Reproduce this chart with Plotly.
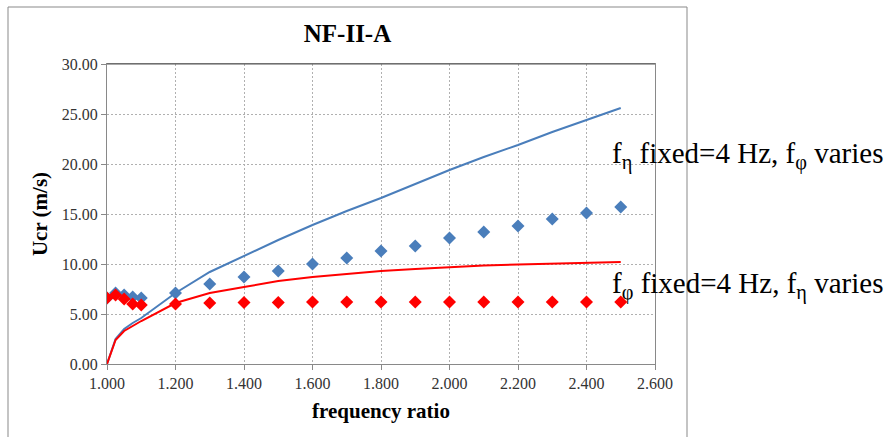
import plotly.graph_objects as go

# ---- data ----
x_pts = [1.000, 1.025, 1.050, 1.075, 1.100, 1.2, 1.3, 1.4, 1.5, 1.6, 1.7, 1.8, 1.9, 2.0, 2.1, 2.2, 2.3, 2.4, 2.5]
blue_pts = [6.6, 7.1, 6.9, 6.7, 6.6, 7.1, 8.0, 8.7, 9.3, 10.0, 10.6, 11.3, 11.8, 12.6, 13.2, 13.8, 14.5, 15.1, 15.7]
red_pts = [6.6, 6.9, 6.5, 6.0, 5.9, 6.0, 6.1, 6.15, 6.15, 6.2, 6.2, 6.2, 6.2, 6.2, 6.2, 6.2, 6.2, 6.2, 6.2]

x_line = [1.000, 1.025, 1.050, 1.075, 1.100, 1.2, 1.3, 1.4, 1.5, 1.6, 1.7, 1.8, 1.9, 2.0, 2.1, 2.2, 2.3, 2.4, 2.5]
blue_line = [0.0, 2.5, 3.5, 4.1, 4.6, 7.1, 9.2, 10.8, 12.4, 13.9, 15.3, 16.6, 18.0, 19.4, 20.7, 21.9, 23.2, 24.4, 25.6]
red_line = [0.0, 2.4, 3.3, 3.8, 4.3, 6.1, 7.1, 7.7, 8.3, 8.7, 9.0, 9.3, 9.5, 9.7, 9.85, 9.95, 10.05, 10.12, 10.2]

x_ticks = [1.0, 1.2, 1.4, 1.6, 1.8, 2.0, 2.2, 2.4, 2.6]
y_ticks = [0, 5, 10, 15, 20, 25, 30]

title_text = "NF-II-A"
x_title = "frequency ratio"
y_title = "Ucr (m/s)"
label_top = "f<sub>η</sub> fixed=4 Hz, f<sub>φ</sub> varies"
label_bottom = "f<sub>φ</sub> fixed=4 Hz, f<sub>η</sub> varies"

BLUE = "#4A7EBB"
RED = "#FF0000"
SERIF = "Liberation Serif"

W, H = 889, 437
L, R, T, B = 107, W - 655, 64, H - 364
PW, PH = W - L - R, H - T - B

def px_x(p):
    return (p - L) / PW

def px_y(p):
    return (H - B - p) / PH

fig = go.Figure()
fig.add_trace(go.Scatter(x=x_line, y=blue_line, mode="lines",
                         line=dict(color=BLUE, width=2), showlegend=False))
fig.add_trace(go.Scatter(x=x_line, y=red_line, mode="lines",
                         line=dict(color=RED, width=2), showlegend=False))
fig.add_trace(go.Scatter(x=x_pts, y=blue_pts, mode="markers",
                         marker=dict(symbol="diamond", size=10, color=BLUE), showlegend=False))
fig.add_trace(go.Scatter(x=x_pts, y=red_pts, mode="markers",
                         marker=dict(symbol="diamond", size=10, color=RED), showlegend=False))

axis_common = dict(
    showgrid=True, gridcolor="#B0B0B0", griddash="2px,2px", gridwidth=1,
    showline=True, linecolor="#898989", linewidth=1, mirror=True,
    ticks="outside", ticklen=5, tickcolor="#898989",
    tickfont=dict(family=SERIF, size=16, color="#333333"),
    zeroline=False,
)

fig.update_xaxes(range=[1.0, 2.6], tickvals=x_ticks, tickformat=".3f",
                 title=dict(text=x_title, standoff=12,
                            font=dict(family=SERIF, size=21, color="#000000", weight="bold")),
                 **axis_common)
fig.update_yaxes(range=[0, 30], tickvals=y_ticks, tickformat=".2f",
                 title=dict(text=y_title, standoff=8,
                            font=dict(family=SERIF, size=21, color="#000000", weight="bold")),
                 **axis_common)

fig.update_layout(
    width=W, height=H,
    margin=dict(l=L, r=R, t=T, b=B, autoexpand=False),
    paper_bgcolor="white", plot_bgcolor="white",
    font=dict(family=SERIF),
    title=dict(text=title_text, x=347.5 / W, xref="container", xanchor="center",
               y=1 - 33 / H, yref="container", yanchor="middle",
               font=dict(family=SERIF, size=25, color="#000000", weight="bold")),
    shapes=[
        dict(type="rect", xref="paper", yref="paper",
             x0=px_x(8), x1=px_x(687), y0=px_y(445), y1=px_y(7),
             line=dict(color="#898989", width=1), fillcolor="rgba(0,0,0,0)", layer="below"),
        dict(type="line", xref="paper", yref="paper",
             x0=0, x1=1, y0=1, y1=1, line=dict(color="#555555", width=1)),
    ],
    annotations=[
        dict(text=label_top, xref="paper", yref="paper", x=px_x(610), y=px_y(155),
             xanchor="left", yanchor="middle", showarrow=False,
             font=dict(family=SERIF, size=29, color="#000000")),
        dict(text=label_bottom, xref="paper", yref="paper", x=px_x(610), y=px_y(285),
             xanchor="left", yanchor="middle", showarrow=False,
             font=dict(family=SERIF, size=29, color="#000000")),
    ],
)

fig.write_html("out.html")
